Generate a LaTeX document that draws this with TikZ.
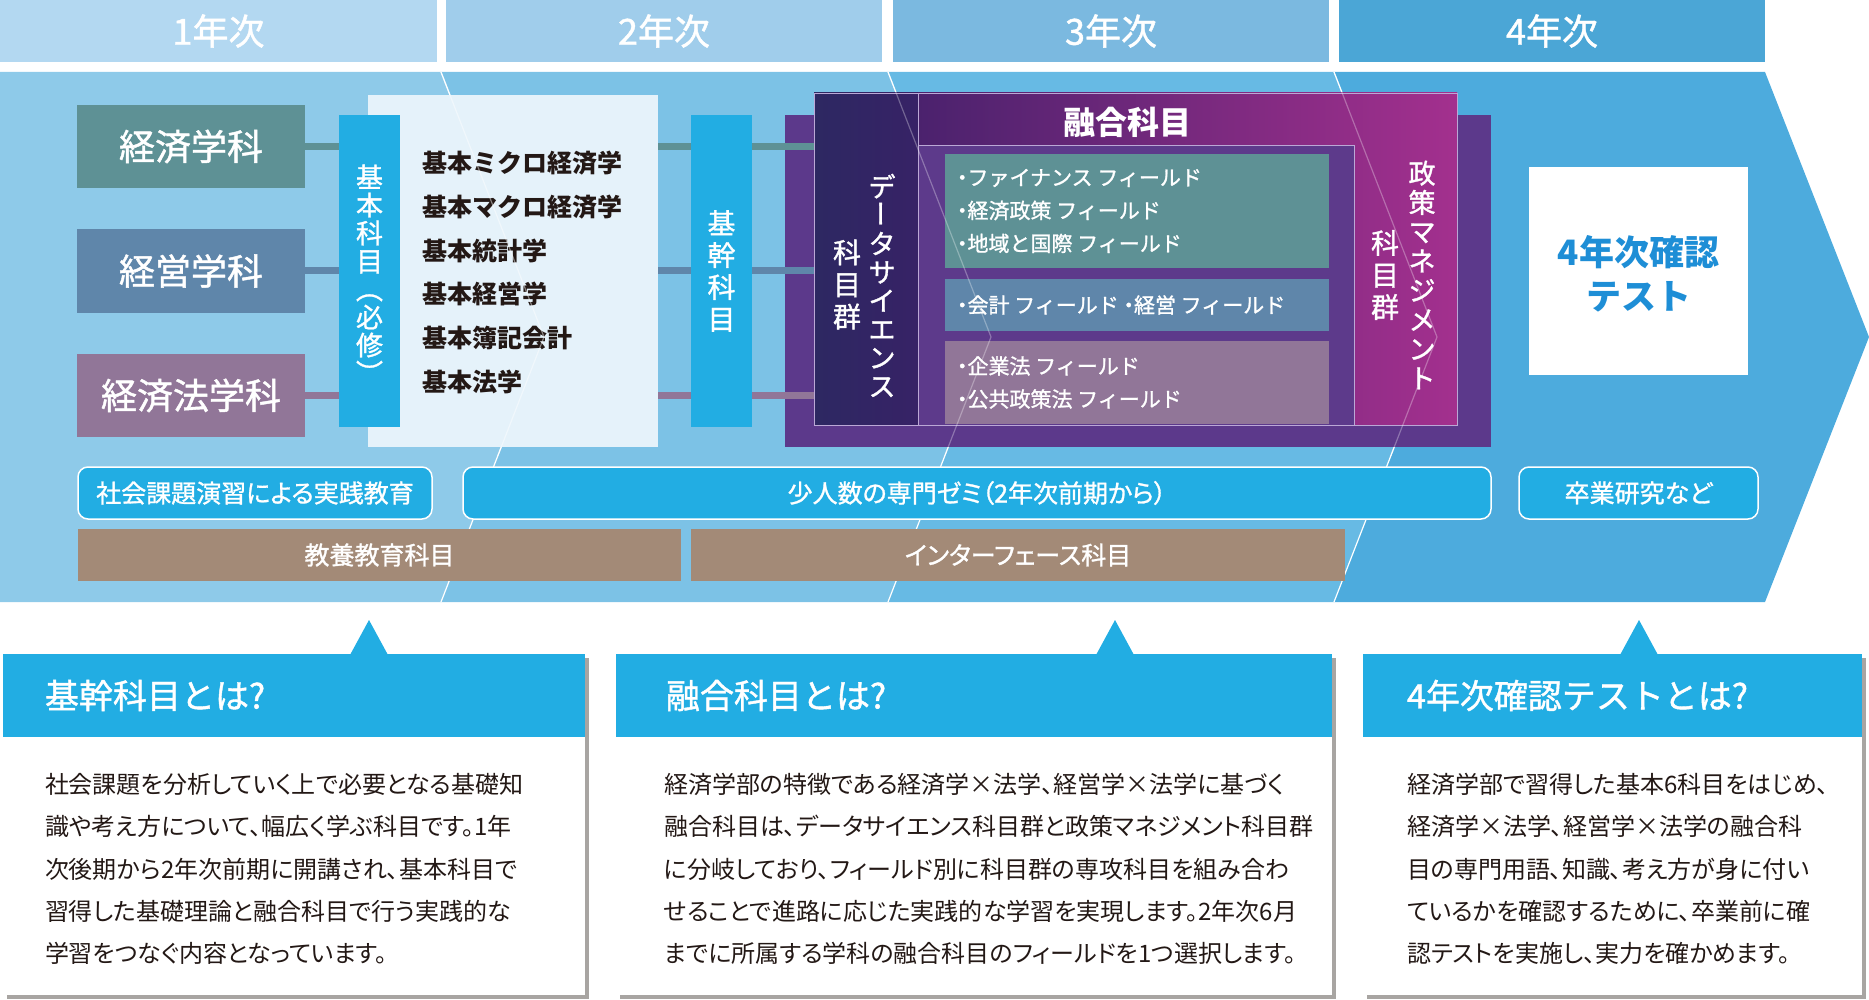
\documentclass[tikz,border=0pt]{standalone}
\usepackage{fontspec}
\setmainfont{Noto Sans CJK JP}
\newfontfamily\propfont{Noto Sans CJK JP}[RawFeature=+palt]
\newfontfamily\midfont{Noto Sans CJK JP}[FakeBold=1.2]
\newfontfamily\midpropfont{Noto Sans CJK JP}[FakeBold=1.2,RawFeature=+palt]
\usepackage{graphicx}
\usepackage{tikz}
\usetikzlibrary{positioning,fit,backgrounds}
\definecolor{headone}{HTML}{B3D8F1}
\definecolor{headtwo}{HTML}{A0CDEB}
\definecolor{headthree}{HTML}{7BB9E0}
\definecolor{headfour}{HTML}{4BA6D6}
\definecolor{bandone}{HTML}{8ECAE9}
\definecolor{bandtwo}{HTML}{7CC2E6}
\definecolor{bandthree}{HTML}{67BAE4}
\definecolor{bandfour}{HTML}{4DABDD}
\definecolor{econteal}{HTML}{5E9195}
\definecolor{mgmtblue}{HTML}{5F86AA}
\definecolor{lawmauve}{HTML}{917698}
\definecolor{barblue}{HTML}{22ADE3}
\definecolor{paleblue}{HTML}{E5F2FA}
\definecolor{backpurple}{HTML}{5C398B}
\definecolor{framepurple}{HTML}{5D3A8B}
\definecolor{dsnavyleft}{HTML}{2D2862}
\definecolor{dsnavyright}{HTML}{372266}
\definecolor{fusionleft}{HTML}{3A1F67}
\definecolor{fusionright}{HTML}{A3308E}
\definecolor{lavender}{HTML}{BBA8D6}
\definecolor{earthbrown}{HTML}{A38A77}
\definecolor{testblue}{HTML}{1E8ED6}
\definecolor{inkdark}{HTML}{231815}
\definecolor{shadowgray}{HTML}{A8A5A2}
\newcommand{\pxfont}[2]{\fontsize{#1pt}{#2pt}\selectfont}
\newcommand{\tate}[1]{{\XeTeXuseglyphmetrics=0 \rotatebox[origin=c]{-90}{#1}}}
\newcommand{\fieldbullet}{{\midpropfont ・}}

\begin{document}
\begin{tikzpicture}[x=1pt,y=-1pt,
every node/.style={inner sep=0pt,outer sep=0pt},
yearhead/.style={text=white,font=\midfont\pxfont{36}{40}},
deptlabel/.style={text=white,font=\midfont\pxfont{36}{40}},
vtext/.style={text=white,align=center,font=\midfont\pxfont{28}{31}},
subjbar/.style={fill=barblue},
link/.style={line width=7pt},
fieldtext/.style={text=white,align=left,font=\midfont\pxfont{21}{33}},
pill/.style={fill=barblue,draw=white,line width=1.5pt,rounded corners=10pt},
pilltext/.style={text=white,font=\midpropfont\pxfont{25}{30}},
basebar/.style={fill=earthbrown},
qhead/.style={fill=barblue},
qtitle/.style={text=white,font=\midfont\pxfont{34}{36}},
qbody/.style={text=inkdark,align=left,font=\propfont\pxfont{24}{42.3}}
]
\useasboundingbox (0,0) rectangle (1869,1000);

% year band with chevron dividers
\begin{scope}[on background layer]
\fill[bandone] (0,72) -- (441,72) -- (544,337) -- (441,602) -- (0,602) -- cycle;
\fill[bandtwo] (441,72) -- (888,72) -- (991,337) -- (888,602) -- (441,602) -- (544,337) -- cycle;
\fill[bandthree] (888,72) -- (1334,72) -- (1437,337) -- (1334,602) -- (888,602) -- (991,337) -- cycle;
\fill[bandfour] (1334,72) -- (1765,72) -- (1869,337) -- (1765,602) -- (1334,602) -- (1437,337) -- cycle;
\draw[white,line width=1.2pt] (441,72) -- (544,337) -- (441,602);
\draw[white,line width=1.2pt] (888,72) -- (991,337) -- (888,602);
\draw[white,line width=1.2pt] (1334,72) -- (1437,337) -- (1334,602);
\node[fit={(785,115) (1491,447)},fill=backpurple] (back) {};
\end{scope}

\node[fit={(0,0) (437,62)},fill=headone] (year1) {};
\node[fit={(446,0) (882,62)},fill=headtwo] (year2) {};
\node[fit={(893,0) (1329,62)},fill=headthree] (year3) {};
\node[fit={(1339,0) (1765,62)},fill=headfour] (year4) {};
\node[yearhead] at (year1) {1年次};
\node[yearhead] at (year2) {2年次};
\node[yearhead] at (year3) {3年次};
\node[yearhead] at (year4) {4年次};

% departments
\node[fit={(77,105) (305,188)},fill=econteal] (econ) {};
\node[fit={(77,229) (305,313)},fill=mgmtblue] (mgmt) {};
\node[fit={(77,354) (305,437)},fill=lawmauve] (law) {};
\node[deptlabel] at (econ) {経済学科};
\node[deptlabel] at (mgmt) {経営学科};
\node[deptlabel] at (law) {経済法学科};

% basic and core subjects
\node[fit={(368,95) (658,447)},fill=paleblue] (basiclist) {};
\node[text=inkdark,align=left,font=\bfseries\pxfont{25}{43.8},right=54pt of basiclist.west,yshift=-1.5pt] (basicnames) {基本ミクロ経済学\\基本マクロ経済学\\基本統計学\\基本経営学\\基本簿記会計\\基本法学};
\node[fit={(339,115) (400,427)},subjbar] (basicbar) {};
\node[vtext,font=\midfont\pxfont{27}{28}] at ([yshift=-3pt]basicbar) {基\\本\\科\\目\\︵\\必\\修\\︶};
\node[fit={(691,115) (752,427)},subjbar] (corebar) {};
\node[vtext,font=\midfont\pxfont{28}{32}] at (corebar) {基\\幹\\科\\目};

% fusion subjects
\node[fit={(814,93) (1457,425)},left color=fusionleft,right color=fusionright,draw=lavender,line width=0.8pt] (fusion) {};
\node[fit={(814,93) (918,425)},left color=dsnavyleft,right color=dsnavyright,draw=lavender,line width=0.8pt] (datasci) {};
\node[fit={(918,145) (1354,425)},fill=framepurple,draw=lavender,line width=0.8pt] (fieldframe) {};
\node[text=white,font=\bfseries\pxfont{32}{36}] (fusiontitle) at (1127,122) {融合科目};
\node[vtext,font=\midfont\pxfont{27}{28.5}] (dsname) at (882,285.5) {デ\\\tate{ー}\\タ\\サ\\イ\\エ\\ン\\ス};
\node[vtext,font=\midfont\pxfont{28}{32}] (dsgroup) at (847,284.5) {科\\目\\群};
\node[vtext,font=\midfont\pxfont{27}{29.3}] (policyname) at (1422,275) {政\\策\\マ\\ネ\\ジ\\メ\\ン\\ト};
\node[vtext,font=\midfont\pxfont{28}{32}] (policygroup) at (1385,275) {科\\目\\群};
\node[fit={(945,154) (1329,268)},fill=econteal] (finfield) {};
\node[fieldtext,right=12pt of finfield.west] {\fieldbullet ファイナンス フィールド\\\fieldbullet 経済政策 フィールド\\\fieldbullet 地域と国際 フィールド};
\node[fit={(945,279) (1329,331)},fill=mgmtblue] (accfield) {};
\node[fieldtext,right=12pt of accfield.west] {\fieldbullet 会計 フィールド \fieldbullet 経営 フィールド};
\node[fit={(945,341) (1329,424)},fill=lawmauve] (lawfield) {};
\node[fieldtext,right=12pt of lawfield.west] {\fieldbullet 企業法 フィールド\\\fieldbullet 公共政策法 フィールド};

% 4th year
\node[fit={(1529,167) (1748,375)},fill=white] (finaltest) {};
\node[text=testblue,align=center,font=\bfseries\pxfont{35}{44}] at ([yshift=-3pt]finaltest) {4年次確認\\テスト};

% bottom rows
\node[fit={(78,467) (432,519)},pill] (practice) {};
\node[fit={(463,467) (1491,519)},pill] (seminar) {};
\node[fit={(1519,467) (1758,519)},pill] (thesis) {};
\node[fit={(78,529) (681,581)},basebar] (liberal) {};
\node[fit={(691,529) (1345,581)},basebar] (interface) {};
\node[pilltext] at (practice) {社会課題演習による実践教育};
\node[pilltext] at (seminar) {少人数の専門ゼミ（2年次前期から）};
\node[pilltext] at (thesis) {卒業研究など};
\node[pilltext] at (liberal) {教養教育科目};
\node[pilltext] at (interface) {インターフェース科目};

\begin{scope}[on background layer]
\draw[link,econteal] (econ.east) -- (econ.east -| datasci.west);
\draw[link,mgmtblue] (mgmt.east) -- (mgmt.east -| datasci.west);
\draw[link,lawmauve] (law.east) -- (law.east -| datasci.west);
\end{scope}

% faint dividers over the boxes
\begin{scope}
\clip (0,72) rectangle (1869,455);
\draw[white,opacity=0.45,line width=1.2pt] (441,72) -- (544,337) -- (441,602);
\draw[white,opacity=0.3,line width=1.2pt] (888,72) -- (991,337) -- (888,602);
\draw[white,opacity=0.3,line width=1.2pt] (1334,72) -- (1437,337) -- (1334,602);
\end{scope}

% explanations
\node[fit={(3,654) (585,737)},qhead] (q1head) {};
\node[fit={(3,737) (585,995)},fill=white] (q1body) {};
\fill[barblue] (350,655) -- (369,620) -- (388,655) -- cycle;
\node[qtitle,right=42pt of q1head.west] {基幹科目とは?};
\node[qbody,right=42pt of q1body.west,yshift=-3pt] {社会課題を分析していく上で必要となる基礎知\\識や考え方について、幅広く学ぶ科目です。1年\\次後期から2年次前期に開講され、基本科目で\\習得した基礎理論と融合科目で行う実践的な\\学習をつなぐ内容となっています。};

\node[fit={(616,654) (1332,737)},qhead] (q2head) {};
\node[fit={(616,737) (1332,995)},fill=white] (q2body) {};
\fill[barblue] (1096,655) -- (1115,620) -- (1134,655) -- cycle;
\node[qtitle,right=50pt of q2head.west] {融合科目とは?};
\node[qbody,right=48pt of q2body.west,yshift=-3pt] {経済学部の特徴である経済学×法学、経営学×法学に基づく\\融合科目は、データサイエンス科目群と政策マネジメント科目群\\に分岐しており、フィールド別に科目群の専攻科目を組み合わ\\せることで進路に応じた実践的な学習を実現します。2年次6月\\までに所属する学科の融合科目のフィールドを1つ選択します。};

\node[fit={(1363,654) (1862,737)},qhead] (q3head) {};
\node[fit={(1363,737) (1862,995)},fill=white] (q3body) {};
\fill[barblue] (1620,655) -- (1639,620) -- (1658,655) -- cycle;
\node[qtitle,right=44pt of q3head.west] {4年次確認テストとは?};
\node[qbody,right=44pt of q3body.west,yshift=-3pt] {経済学部で習得した基本6科目をはじめ、\\経済学×法学、経営学×法学の融合科\\目の専門用語、知識、考え方が身に付い\\ているかを確認するために、卒業前に確\\認テストを実施し、実力を確かめます。};

\begin{scope}[on background layer]
\fill[shadowgray] ([shift={(4,4)}]q1head.north west) rectangle ([shift={(4,4)}]q1body.south east);
\fill[shadowgray] ([shift={(4,4)}]q2head.north west) rectangle ([shift={(4,4)}]q2body.south east);
\fill[shadowgray] ([shift={(4,4)}]q3head.north west) rectangle ([shift={(4,4)}]q3body.south east);
\end{scope}
\end{tikzpicture}
\end{document}
